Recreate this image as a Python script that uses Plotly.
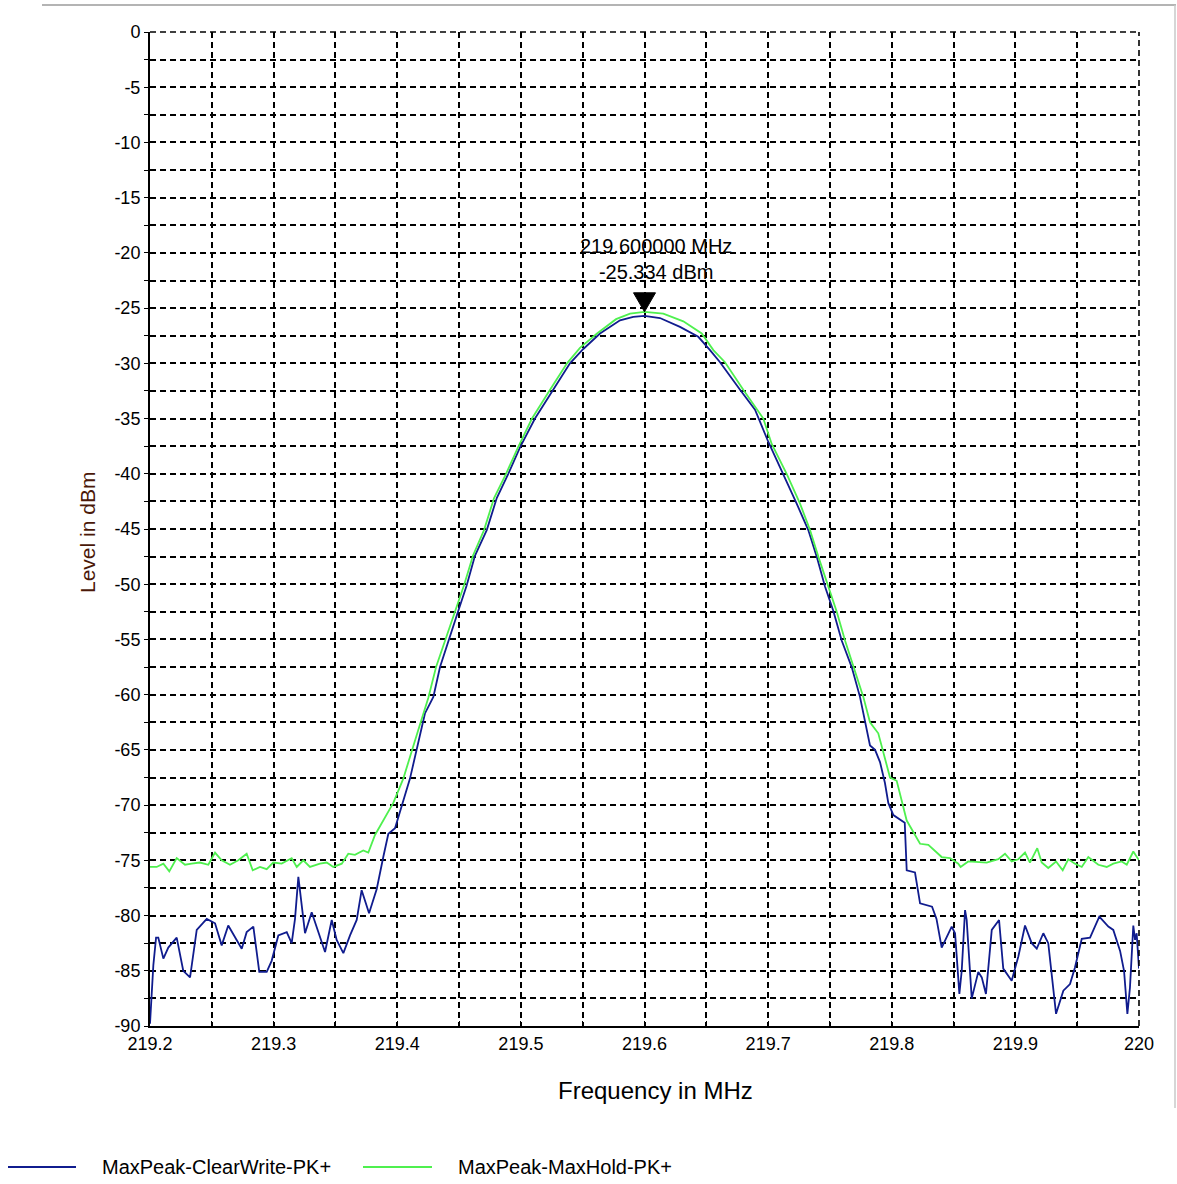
import plotly.graph_objects as go

# ---------------- data ----------------
clearwrite_freq = [
    219.2000, 219.2014, 219.2027, 219.2049, 219.2067, 219.2108, 219.2148, 219.2216,
    219.2269, 219.2324, 219.2378, 219.2459, 219.2526, 219.2580, 219.2633, 219.2742,
    219.2782, 219.2836, 219.2884, 219.2944, 219.2984, 219.3038, 219.3106, 219.3146,
    219.3173, 219.3200, 219.3227, 219.3254, 219.3308, 219.3416, 219.3470, 219.3510,
    219.3564, 219.3618, 219.3672, 219.3712, 219.3772, 219.3834, 219.3887, 219.3928,
    219.3982, 219.4008, 219.4103, 219.4224, 219.4292, 219.4346, 219.4413, 219.4494,
    219.4562, 219.4629, 219.4724, 219.4805, 219.4898, 219.4993, 219.5114, 219.5262,
    219.5397, 219.5505, 219.5640, 219.5802, 219.5909, 219.6000, 219.6125, 219.6287,
    219.6435, 219.6530, 219.6611, 219.6773, 219.6894, 219.7001, 219.7123, 219.7231,
    219.7325, 219.7393, 219.7460, 219.7527, 219.7595, 219.7676, 219.7743, 219.7784,
    219.7824, 219.7865, 219.7905, 219.7945, 219.7972, 219.8013, 219.8081, 219.8105,
    219.8121, 219.8188, 219.8229, 219.8326, 219.8362, 219.8404, 219.8485, 219.8512,
    219.8525, 219.8547, 219.8566, 219.8593, 219.8606, 219.8647, 219.8700, 219.8728,
    219.8762, 219.8809, 219.8868, 219.8902, 219.8970, 219.9024, 219.9078, 219.9132,
    219.9173, 219.9226, 219.9266, 219.9329, 219.9388, 219.9442, 219.9482, 219.9537,
    219.9604, 219.9679, 219.9752, 219.9792, 219.9847, 219.9879, 219.9906, 219.9927,
    219.9954, 219.9968, 219.9981, 220.0000,
]
clearwrite_dbm = [
    -89.8, -87.2, -84.5, -82.0, -82.0, -83.9, -82.9, -82.0,
    -85.0, -85.6, -81.3, -80.3, -80.7, -82.7, -80.9, -83.0,
    -81.5, -81.0, -85.1, -85.1, -84.1, -81.8, -81.5, -82.5,
    -80.3, -76.5, -78.9, -81.6, -79.7, -83.3, -80.4, -82.2,
    -83.4, -81.8, -80.4, -77.7, -79.8, -77.6, -74.7, -72.6,
    -72.1, -71.1, -67.6, -61.7, -60.2, -57.5, -55.1, -52.4,
    -50.1, -47.4, -45.1, -42.2, -40.0, -37.6, -35.0, -32.4,
    -30.0, -28.7, -27.3, -26.1, -25.8, -25.7, -25.9, -26.7,
    -27.6, -28.8, -29.9, -32.4, -34.2, -37.1, -40.0, -42.7,
    -45.1, -47.5, -50.2, -52.4, -55.1, -57.5, -60.2, -62.6,
    -64.6, -65.0, -66.1, -68.0, -69.8, -70.9, -71.4, -71.6,
    -75.9, -76.1, -78.9, -79.2, -80.3, -82.9, -81.0, -81.6,
    -83.6, -87.1, -85.0, -79.5, -80.4, -87.5, -85.1, -85.6,
    -87.1, -81.3, -80.4, -84.8, -85.9, -83.7, -80.9, -82.5,
    -83.0, -81.6, -82.5, -88.9, -86.8, -86.2, -84.7, -82.1,
    -82.0, -80.1, -81.0, -81.3, -83.2, -85.0, -88.9, -86.5,
    -80.9, -82.2, -81.6, -84.8,
]

maxhold_freq = [
    219.2000, 219.2054, 219.2108, 219.2156, 219.2216, 219.2283, 219.2337, 219.2404,
    219.2472, 219.2526, 219.2580, 219.2647, 219.2714, 219.2782, 219.2831, 219.2890,
    219.2944, 219.2997, 219.3065, 219.3146, 219.3187, 219.3240, 219.3294, 219.3375,
    219.3429, 219.3483, 219.3551, 219.3604, 219.3658, 219.3725, 219.3766, 219.3820,
    219.3968, 219.4049, 219.4170, 219.4251, 219.4314, 219.4386, 219.4467, 219.4540,
    219.4613, 219.4702, 219.4783, 219.4880, 219.4977, 219.5090, 219.5236, 219.5373,
    219.5478, 219.5616, 219.5770, 219.5883, 219.6000, 219.6152, 219.6314, 219.6463,
    219.6557, 219.6651, 219.6799, 219.6961, 219.7029, 219.7150, 219.7258, 219.7339,
    219.7406, 219.7487, 219.7555, 219.7622, 219.7689, 219.7770, 219.7824, 219.7891,
    219.7986, 219.8040, 219.8121, 219.8229, 219.8296, 219.8404, 219.8471, 219.8538,
    219.8557, 219.8619, 219.8768, 219.8862, 219.8916, 219.8970, 219.9024, 219.9078,
    219.9118, 219.9177, 219.9213, 219.9266, 219.9329, 219.9383, 219.9428, 219.9482,
    219.9537, 219.9590, 219.9671, 219.9739, 219.9792, 219.9860, 219.9901, 219.9954,
    220.0000,
]
maxhold_dbm = [
    -75.6, -75.6, -75.3, -76.0, -74.8, -75.4, -75.3, -75.2,
    -75.4, -74.3, -75.0, -75.4, -75.0, -74.4, -75.9, -75.6,
    -75.8, -75.2, -75.3, -74.8, -75.6, -75.0, -75.6, -75.3,
    -75.2, -75.6, -75.3, -74.4, -74.5, -74.1, -74.3, -72.7,
    -69.8, -67.6, -63.2, -60.3, -57.5, -55.1, -52.4, -50.1,
    -47.4, -45.1, -42.2, -40.0, -37.6, -35.0, -32.4, -30.0,
    -28.6, -27.3, -26.0, -25.5, -25.334, -25.5, -26.2, -27.3,
    -28.8, -29.9, -32.4, -35.0, -37.3, -40.0, -42.7, -45.1,
    -47.5, -50.2, -52.5, -55.1, -57.5, -60.2, -62.5, -63.5,
    -67.5, -67.8, -71.4, -73.5, -73.6, -74.7, -74.8, -75.3,
    -75.6, -75.1, -75.2, -74.9, -74.4, -75.1, -74.9, -74.3,
    -75.2, -73.9, -75.2, -75.7, -75.1, -75.9, -74.9, -75.3,
    -75.6, -74.7, -75.4, -75.6, -75.3, -75.1, -75.4, -74.2,
    -75.0,
]

series_names = ["MaxPeak-ClearWrite-PK+", "MaxPeak-MaxHold-PK+"]
series_colors = ["#101c8e", "#4ff04f"]

marker_freq = 219.6
marker_dbm = -25.334

x_tick_vals = [219.2, 219.3, 219.4, 219.5, 219.6, 219.7, 219.8, 219.9, 220.0]
x_tick_text = ["219.2", "219.3", "219.4", "219.5", "219.6", "219.7", "219.8", "219.9", "220"]
y_tick_vals = [0, -5, -10, -15, -20, -25, -30, -35, -40, -45, -50, -55, -60, -65, -70, -75, -80, -85, -90]
y_tick_text = [str(v) for v in y_tick_vals]

x_title = "Frequency in MHz"
y_title = "Level in dBm"

# ---------------- figure ----------------
W, H = 1177, 1184
ML, MR, MT, MB = 150, 38, 32, 158
pw, ph = W - ML - MR, H - MT - MB


def px_x(p):
    return (p - ML) / pw


def px_y(p):
    return (H - MB - p) / ph


FONT = "Liberation Sans"
DASH = "6px,4px"
GRID_W = 1.6

fig = go.Figure()
fig.add_trace(go.Scatter(x=clearwrite_freq, y=clearwrite_dbm, mode="lines",
                         line=dict(color=series_colors[0], width=1.8),
                         name=series_names[0], showlegend=False))
fig.add_trace(go.Scatter(x=maxhold_freq, y=maxhold_dbm, mode="lines",
                         line=dict(color=series_colors[1], width=1.8),
                         name=series_names[1], showlegend=False))

grid = dict(gridcolor="black", gridwidth=GRID_W, griddash=DASH)

fig.update_xaxes(range=[219.2, 220.0], tickvals=x_tick_vals, ticktext=x_tick_text,
                 showline=True, linecolor="black", linewidth=2, mirror=False,
                 ticks="inside", ticklen=5, tickcolor="black", tickwidth=1,
                 showgrid=True, zeroline=False,
                 minor=dict(tick0=219.2, dtick=0.05, showgrid=True, ticks="inside",
                            ticklen=5, tickcolor="black", **grid),
                 tickfont=dict(family=FONT, size=18, color="black"),
                 **grid)
fig.update_yaxes(range=[-90, 0], tickvals=y_tick_vals, ticktext=y_tick_text,
                 showline=True, linecolor="black", linewidth=2, mirror=False,
                 ticks="outside", ticklen=4, tickcolor="black", tickwidth=1,
                 showgrid=True, zeroline=False,
                 minor=dict(tick0=0, dtick=2.5, showgrid=True, ticks="outside",
                            ticklen=4, tickcolor="black", **grid),
                 tickfont=dict(family=FONT, size=18, color="black"),
                 **grid)

annotations = [
    dict(x=marker_freq, y=marker_dbm, xref="x", yref="y",
         text=f"{marker_freq:.6f} MHz<br>{marker_dbm:.3f} dBm",
         showarrow=False, xanchor="center", yanchor="bottom", xshift=11, yshift=27,
         font=dict(family=FONT, size=20, color="black")),
    dict(x=px_x(655), y=px_y(1090), xref="paper", yref="paper", text=x_title,
         showarrow=False, xanchor="center", yanchor="middle",
         font=dict(family=FONT, size=24, color="black")),
    dict(x=px_x(87), y=px_y(533), xref="paper", yref="paper", text=y_title,
         showarrow=False, xanchor="center", yanchor="middle", textangle=-90,
         font=dict(family=FONT, size=21, color="#4a1808")),
]

shapes = [
    # edge grid lines (top at 0 dBm, right at 220 MHz)
    dict(type="line", xref="paper", yref="paper", x0=0, x1=1, y0=1, y1=1,
         line=dict(color="black", width=GRID_W, dash=DASH)),
    dict(type="line", xref="paper", yref="paper", x0=1, x1=1, y0=0, y1=1,
         line=dict(color="black", width=GRID_W, dash=DASH)),
    # peak marker triangle (pixel-sized, anchored at the marker point)
    dict(type="path", xref="x", yref="y", xsizemode="pixel", ysizemode="pixel",
         xanchor=marker_freq, yanchor=marker_dbm,
         path="M0,0 L-11,19 L11,19 Z", fillcolor="black", line=dict(color="black", width=1)),
    # outer frame (top and right)
    dict(type="line", xref="paper", yref="paper", x0=px_x(42), x1=px_x(1176),
         y0=px_y(5), y1=px_y(5), line=dict(color="#b4b4b4", width=2)),
    dict(type="line", xref="paper", yref="paper", x0=px_x(1175), x1=px_x(1175),
         y0=px_y(5), y1=px_y(1108), line=dict(color="#c8c8c8", width=1.5)),
]

# manual legend
legend_y = px_y(1167)
for (x0, x1, tx), name, col in zip([(8, 76, 100), (363, 432, 456)], series_names, series_colors):
    shapes.append(dict(type="line", xref="paper", yref="paper", x0=px_x(x0), x1=px_x(x1),
                       y0=legend_y, y1=legend_y, line=dict(color=col, width=1.8)))
    annotations.append(dict(x=px_x(tx), y=legend_y, xref="paper", yref="paper", text=name,
                            showarrow=False, xanchor="left", yanchor="middle",
                            font=dict(family=FONT, size=20, color="black")))

fig.update_layout(width=W, height=H, margin=dict(l=ML, r=MR, t=MT, b=MB),
                  paper_bgcolor="white", plot_bgcolor="white",
                  showlegend=False, annotations=annotations, shapes=shapes)

fig.write_html("out.html")
